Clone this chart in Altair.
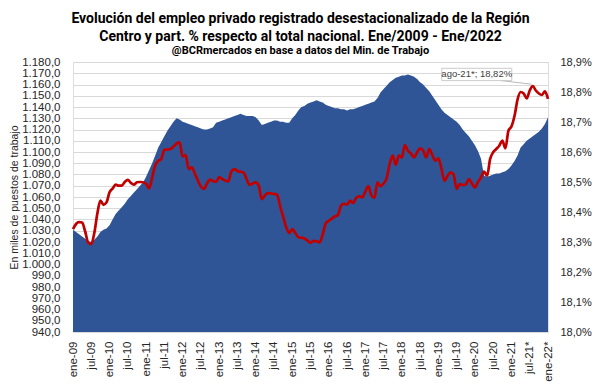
import altair as alt
import pandas as pd

# ---------------- data ----------------
title_lines = [
    "Evolución del empleo privado registrado desestacionalizado de la Región",
    "Centro y part. % respecto al total nacional. Ene/2009 - Ene/2022",
]
subtitle = "@BCRmercados  en base a datos del Min. de Trabajo"
y_left_title = "En miles de puestos de trabajo"

tick_labels = [
    "ene-09", "jul-09", "ene-10", "jul-10", "ene-11", "jul-11", "ene-12", "jul-12",
    "ene-13", "jul-13", "ene-14", "jul-14", "ene-15", "jul-15", "ene-16", "jul-16",
    "ene-17", "jul-17", "ene-18", "jul-18", "ene-19", "jul-19", "ene-20", "jul-20",
    "ene-21", "jul-21*", "ene-22*",
]

# employment (thousands), monthly Jan-2009 .. Jan-2022
employment = [
    1031, 1029, 1027, 1025, 1023, 1021, 1020, 1022, 1025, 1029, 1031, 1032,
    1035, 1040, 1045, 1048, 1051, 1054, 1058, 1061, 1064, 1067, 1070, 1073,
    1078, 1084, 1090, 1097, 1104, 1109, 1114, 1119, 1123, 1127, 1130, 1129,
    1127, 1126, 1125, 1124, 1123, 1122, 1121, 1120, 1120, 1121, 1122, 1126,
    1127, 1128, 1129, 1130, 1131, 1132, 1133, 1134, 1133, 1132, 1132, 1132,
    1131, 1128, 1124, 1125, 1126, 1127, 1128, 1128, 1127, 1127, 1126, 1126,
    1130, 1133, 1137, 1140, 1141, 1143, 1144, 1145, 1146, 1145, 1144, 1142,
    1141, 1140, 1139, 1139, 1138, 1138, 1137, 1138, 1138, 1139, 1140, 1141,
    1142, 1143, 1144, 1145, 1148, 1153, 1156, 1159, 1162, 1164, 1166, 1167,
    1168, 1168, 1169, 1168, 1167, 1165, 1162, 1160, 1157, 1154, 1150, 1146,
    1142, 1138, 1135, 1133, 1131, 1129, 1127, 1124, 1120, 1117, 1114, 1110,
    1106, 1101, 1094, 1079, 1078, 1079, 1080, 1081, 1081, 1082, 1083, 1085,
    1088, 1092, 1097, 1104, 1107, 1110, 1112, 1114, 1116, 1118, 1121, 1125,
    1131,
]

# share of national total (%), monthly Jan-2009 .. Jan-2022
share = [
    18.343, 18.360, 18.366, 18.365, 18.335, 18.298, 18.293, 18.330, 18.395, 18.438, 18.424, 18.432,
    18.466, 18.478, 18.491, 18.488, 18.488, 18.500, 18.507, 18.497, 18.491, 18.499, 18.500, 18.499,
    18.494, 18.479, 18.515, 18.555, 18.570, 18.577, 18.607, 18.608, 18.610, 18.618, 18.628, 18.632,
    18.585, 18.590, 18.543, 18.549, 18.528, 18.505, 18.485, 18.477, 18.495, 18.508, 18.503, 18.501,
    18.516, 18.510, 18.505, 18.502, 18.535, 18.543, 18.537, 18.534, 18.532, 18.510, 18.490, 18.495,
    18.499, 18.488, 18.443, 18.455, 18.463, 18.462, 18.460, 18.458, 18.420, 18.385, 18.350, 18.330,
    18.343, 18.330, 18.316, 18.314, 18.312, 18.305, 18.297, 18.304, 18.302, 18.299, 18.325, 18.362,
    18.371, 18.378, 18.385, 18.390, 18.421, 18.427, 18.425, 18.438, 18.430, 18.447, 18.452, 18.449,
    18.468, 18.486, 18.455, 18.448, 18.499, 18.486, 18.495, 18.512, 18.560, 18.588, 18.557, 18.588,
    18.582, 18.623, 18.604, 18.595, 18.582, 18.598, 18.612, 18.605, 18.582, 18.610, 18.590, 18.571,
    18.579, 18.545, 18.504, 18.520, 18.532, 18.525, 18.477, 18.493, 18.490, 18.492, 18.510, 18.495,
    18.482, 18.500, 18.515, 18.535, 18.521, 18.577, 18.599, 18.610, 18.621, 18.638, 18.612, 18.671,
    18.685, 18.720, 18.775, 18.800, 18.795, 18.779, 18.805, 18.820, 18.805, 18.795, 18.790, 18.802,
    18.777,
]

annotation_text = "ago-21*; 18,82%"
annotation_month = 151          # ago-21
annotation_box_months = [121.1, 144.1]
annotation_box_share = [18.838, 18.879]

# ---------------- chart ----------------
months = list(range(len(employment)))
df = pd.DataFrame({"m": months, "emp": employment, "share": share})

TITLE_FONT = "Roboto, Liberation Sans, sans-serif"
SANS = "Liberation Sans, Arial, sans-serif"
TXT = "#262626"

xs = alt.Scale(domain=[0, len(employment) - 1], nice=False, zero=False)
ys_left = alt.Scale(domain=[940, 1180], nice=False, zero=False)
R_DOMAIN = [18.0, 18.9]

label_arr = "[" + ",".join("'%s'" % t for t in tick_labels) + "]"
x_axis = alt.Axis(
    values=list(range(0, len(employment), 6)),
    labelExpr=label_arr + "[round(datum.value/6)]",
    labelAngle=270, grid=False, ticks=False, domain=True, domainColor="#D9D9D9",
    labelFont=SANS, labelFontSize=11.5, labelColor=TXT, labelPadding=9, title="",
    labelOverlap=False, labelSeparation=0, labelFlush=False,
)

left_axis = alt.Axis(
    values=list(range(940, 1181, 10)),
    labelExpr="replace(replace(replace(format(datum.value, ',.1f'), ',', 'X'), '.', ','), 'X', '.')",
    grid=True, gridColor="#D9D9D9", gridWidth=1, ticks=False, domain=False,
    labelFont=SANS, labelFontSize=11.5, labelColor=TXT, labelPadding=13,
    title=y_left_title, titleFont=SANS, titleFontSize=10.5, titleFontWeight="normal",
    titleColor=TXT, titlePadding=2, labelOverlap=False,
)

right_axis = alt.Axis(
    orient="right",
    values=[round(18.0 + i / 10, 1) for i in range(10)],
    labelExpr="replace(format(datum.value, '.1f'), '.', ',') + '%'",
    grid=False, ticks=False, domain=False,
    labelFont=SANS, labelFontSize=11, labelColor=TXT, labelPadding=12, title="",
    labelOverlap=False,
)


def xenc(field):
    return alt.X(field, type="quantitative", scale=xs, axis=x_axis)


def ryscale():
    return alt.Scale(domain=R_DOMAIN, nice=False, zero=False)


area = alt.Chart(df).mark_area(color="#2F5597", opacity=1).encode(
    x=xenc("m"),
    y=alt.Y("emp:Q", scale=ys_left, axis=left_axis),
    y2=alt.datum(940),
)

line = alt.Chart(df).mark_line(color="#C00000", strokeWidth=2.7, interpolate="monotone").encode(
    x=xenc("m"),
    y=alt.Y("share:Q", scale=ryscale(), axis=right_axis),
)

ann_row = df[df.m == annotation_month].iloc[0]
box_df = pd.DataFrame({
    "x0": [annotation_box_months[0]], "x1": [annotation_box_months[1]],
    "y0": [annotation_box_share[0]], "y1": [annotation_box_share[1]],
    "lx0": [annotation_box_months[0] + 0.85 * (annotation_box_months[1] - annotation_box_months[0])],
    "ly0": [annotation_box_share[0]],
    "lx1": [annotation_month - 0.4], "ly1": [float(ann_row["share"]) + 0.006],
    "tx": [(annotation_box_months[0] + annotation_box_months[1]) / 2],
    "ty": [(annotation_box_share[0] + annotation_box_share[1]) / 2],
    "label": [annotation_text],
})

leader = alt.Chart(box_df).mark_rule(color="#A6A6A6", strokeWidth=0.8).encode(
    x=xenc("lx0"), x2="lx1:Q",
    y=alt.Y("ly0:Q", scale=ryscale(), axis=None), y2="ly1:Q",
)
box = alt.Chart(box_df).mark_rect(fill="white", stroke="#BFBFBF", strokeWidth=0.8).encode(
    x=xenc("x0"), x2="x1:Q",
    y=alt.Y("y0:Q", scale=ryscale(), axis=None), y2="y1:Q",
)
text = alt.Chart(box_df).mark_text(font=SANS, fontSize=9.5, color="#404040",
                                   align="center", baseline="middle").encode(
    x=xenc("tx"),
    y=alt.Y("ty:Q", scale=ryscale(), axis=None),
    text="label:N",
)

chart = alt.layer(area, line, leader, box, text).resolve_scale(y="independent").properties(
    width=475, height=270,
    padding={"left": 65, "top": 54, "right": 44, "bottom": 51},
    autosize=alt.AutoSizeParams(type="none"),
    title=alt.TitleParams(
        text=title_lines, subtitle=subtitle, anchor="middle", frame="group",
        font=TITLE_FONT, fontSize=14, fontWeight="bold", lineHeight=17.6, color="black",
        subtitleFont=TITLE_FONT, subtitleFontSize=11, subtitleFontWeight="bold",
        subtitleColor="black", subtitlePadding=1, offset=0, dx=-10,
    ),
).configure_view(stroke=None).configure(background="white")

chart.save("out.html", embed_options={"renderer": "svg", "actions": False})
